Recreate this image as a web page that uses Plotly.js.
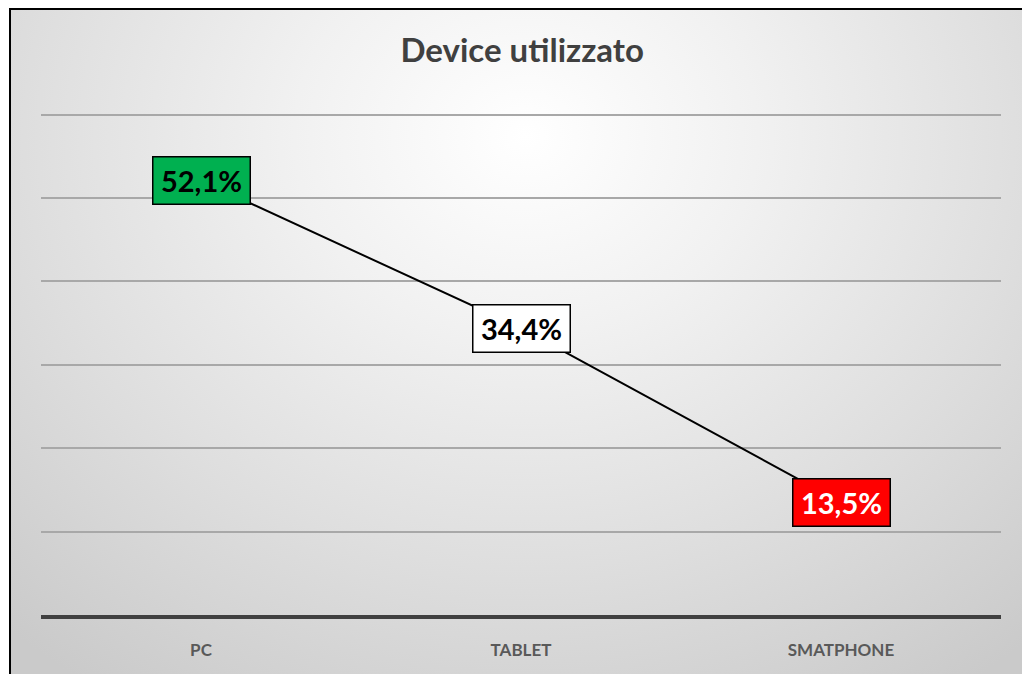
<!DOCTYPE html>
<html>
<head>
<meta charset="utf-8">
<script src="https://cdn.plot.ly/plotly-3.0.1.min.js"></script>
<style>
  html, body { margin: 0; padding: 0; background: #ffffff; }
  #wrap { position: relative; width: 1022px; height: 674px; overflow: hidden; }
  #bg {
    position: absolute; left: 9px; top: 8px; width: 1030px; height: 700px;
    border-left: 2px solid #000; border-top: 2px solid #000;
    background: radial-gradient(ellipse 75% 95% at 50% 18%, #ffffff 0%, #f1f1f1 30%, #dedede 65%, #cacaca 100%);
  }
  #chart { position: absolute; left: 0; top: 0; width: 1022px; height: 674px; }
</style>
</head>
<body>
<div id="wrap">
  <div id="bg"></div>
  <div id="chart"></div>
</div>
<script>
const categories = ["PC", "TABLET", "SMATPHONE"];
const values = [52.1, 34.4, 13.5];
const labelBg = ["#00b050", "#ffffff", "#ff0000"];
const labelFg = ["#000000", "#000000", "#ffffff"];
const yTicks = [0, 10, 20, 30, 40, 50, 60];

const fmt = v => v.toFixed(1).replace('.', ',') + '%';

const trace = {
  type: 'scatter',
  mode: 'lines',
  x: categories,
  y: values,
  line: { color: '#000000', width: 2 },
  hoverinfo: 'skip'
};

const annotations = categories.map((c, i) => ({
  x: c, y: values[i], xref: 'x', yref: 'y',
  text: fmt(values[i]),
  showarrow: false,
  xanchor: 'center', yanchor: 'middle',
  bgcolor: labelBg[i],
  bordercolor: '#000000',
  borderwidth: 1.5,
  borderpad: 4,
  width: 88, height: 38,
  font: { family: 'Lato, "Open Sans", sans-serif', size: 29, color: labelFg[i], weight: 700 }
}));

const layout = {
  width: 1022, height: 674,
  paper_bgcolor: 'rgba(0,0,0,0)',
  plot_bgcolor: 'rgba(0,0,0,0)',
  margin: { l: 41, r: 21, t: 112, b: 59 },
  showlegend: false,
  title: {
    text: 'Device utilizzato',
    x: 0.511, xref: 'container', xanchor: 'center',
    y: 0.925, yref: 'container', yanchor: 'middle',
    font: { family: 'Lato, "Open Sans", sans-serif', size: 33, color: '#404040', weight: 700 }
  },
  xaxis: {
    type: 'category',
    range: [-0.5, 2.5],
    showgrid: false,
    zeroline: false,
    showline: true,
    linecolor: '#404040',
    linewidth: 4,
    ticks: 'outside', ticklen: 17, tickcolor: 'rgba(0,0,0,0)',
    tickfont: { family: 'Lato, "Open Sans", sans-serif', size: 17, color: '#595959', weight: 700 },
    fixedrange: true
  },
  yaxis: {
    range: [0, 60.3],
    tickvals: yTicks,
    showticklabels: false,
    showgrid: true,
    gridcolor: '#a8a8a8',
    gridwidth: 2,
    zeroline: false,
    showline: false,
    ticks: '',
    fixedrange: true
  },
  annotations: annotations
};

Plotly.newPlot('chart', [trace], layout, { displayModeBar: false, staticPlot: true });
</script>
</body>
</html>
